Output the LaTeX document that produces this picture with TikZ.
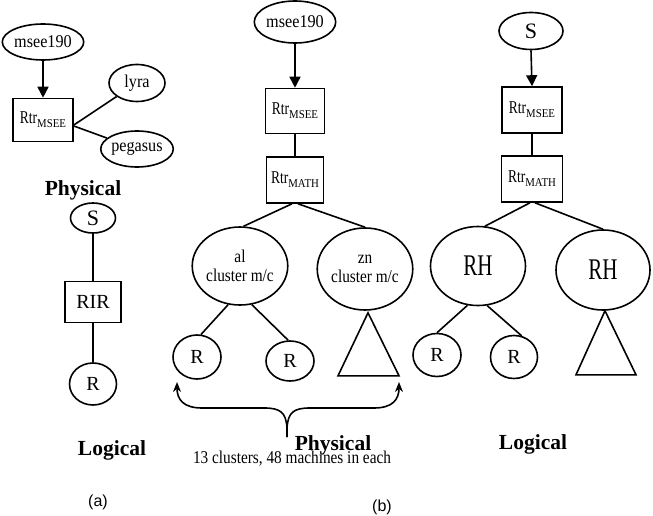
\documentclass[tikz,border=0pt]{standalone}
\usepackage{fontspec}
\setmainfont{Liberation Serif}
\newfontfamily\narrowfont[FakeStretch=0.9]{Liberation Serif}
\newfontfamily\clusterfont[FakeStretch=0.85]{Liberation Serif}
\newfontfamily\tightfont[FakeStretch=0.75]{Liberation Serif}
\newfontfamily\rhfont[FakeStretch=0.7]{Liberation Serif}
\newfontfamily\capfont{Liberation Sans}
\usetikzlibrary{shapes.geometric, arrows.meta}

\newcommand{\rtrlabel}[1]{{\tightfont\fontsize{18}{20}\selectfont Rtr}\raisebox{-4pt}{\narrowfont\fontsize{12}{14}\selectfont #1}}

\begin{document}
\begin{tikzpicture}[x=1pt, y=-1pt, line width=1.6pt,
    host/.style={ellipse, draw, inner sep=0pt, font=\narrowfont\fontsize{18}{20}\selectfont},
    leaf/.style={ellipse, draw, inner sep=0pt, font=\fontsize{20}{22}\selectfont},
    cluster/.style={ellipse, draw, inner sep=0pt, align=center, font=\clusterfont\fontsize{18}{19}\selectfont},
    rtrbox/.style={rectangle, draw, inner sep=0pt},
    caption/.style={font=\bfseries\fontsize{21.5}{24}\selectfont},
    arr/.style={-{Triangle[length=11pt,width=11pt]}},
    brace/.style={-{Stealth[length=10pt,width=8pt]}}]

    \useasboundingbox (0,0) rectangle (653,516);

    %% (a) Physical
    \node[host, minimum width=64, minimum height=36] (mseeA) at (43,42) {msee190};
    \node[rtrbox, minimum width=60, minimum height=43] (rtrA) at (43,120) {\rtrlabel{MSEE}};
    \node[host, minimum width=56, minimum height=37] (lyra) at (137,83) {lyra};
    \node[host, minimum width=59, minimum height=36] (pegasus) at (137,149) {pegasus};
    \node[caption] (physA) at (83,190) {Physical};

    \draw[arr] (mseeA.south) -- (rtrA.north);
    \draw ([yshift=-5pt]rtrA.east) -- (lyra);
    \draw ([yshift=-6pt]rtrA.east) -- (pegasus);

    %% (a) Logical
    \node[leaf, minimum width=45, minimum height=30, font=\fontsize{22}{24}\selectfont] (sA) at (93,218) {S};
    \node[rtrbox, minimum width=56, minimum height=41, font=\fontsize{20}{22}\selectfont] (rir) at (93,302) {RIR};
    \node[leaf, minimum width=47, minimum height=42] (rA) at (93,384) {R};
    \node[caption] (logA) at (112,450) {Logical};
    \node[font=\capfont\fontsize{16}{18}\selectfont] (capA) at (98,502) {(a)};

    \draw (sA.south) -- (rir.north);
    \draw (rir.south) -- (rA.north);

    %% (b) Physical
    \node[host, minimum width=65, minimum height=42] (mseeB) at (295,22) {msee190};
    \node[rtrbox, minimum width=59, minimum height=45] (rtrB) at (295,111) {\rtrlabel{MSEE}};
    \node[rtrbox, minimum width=57, minimum height=46] (mathB) at (295,180) {\rtrlabel{MATH}};
    \node[cluster, minimum width=93, minimum height=78] (al) at (240,266) {al\\cluster m/c};
    \node[cluster, minimum width=95, minimum height=82] (zn) at (365,269) {zn\\cluster m/c};
    \node[leaf, minimum width=48, minimum height=44] (rL) at (197,357) {R};
    \node[leaf, minimum width=48, minimum height=40] (rR) at (290,361) {R};

    \draw[arr] (mseeB.south) -- (rtrB.north);
    \draw (rtrB.south) -- (mathB.north);
    \draw ([xshift=-3pt]mathB.south) -- (al.85);
    \draw ([xshift=3pt]mathB.south) -- (zn.north);
    \draw (al.253) -- (rL.80);
    \draw (al.287) -- (rR.95);

    % Subtree of zn
    \draw (zn.south) ++(3,2) -- ++(-30,63) -- ++(61,0) -- cycle;

    % Brace over the machines
    \coordinate (braceTip) at (287,437);
    \coordinate (leftEnd) at (177,382);
    \coordinate (rightEnd) at (399,382);
    \draw[brace] (braceTip) -- (287,428) .. controls (286,412) and (280,408) .. (264,408)
        -- (202,408) .. controls (184,408) and (177,400) .. (leftEnd);
    \draw[brace] (braceTip) -- (287,428) .. controls (288,412) and (294,408) .. (310,408)
        -- (374,408) .. controls (392,408) and (399,400) .. (rightEnd);

    \node[caption] (physB) at (333,445) {Physical};
    \node[font=\clusterfont\fontsize{18}{20}\selectfont] (count) at (292,459) {13 clusters, 48 machines in each};
    \node[font=\capfont\fontsize{16}{18}\selectfont] (capB) at (382,507) {(b)};

    %% (b) Logical
    \node[leaf, minimum width=64, minimum height=37, font=\fontsize{22}{24}\selectfont] (sC) at (531,31) {S};
    \node[rtrbox, minimum width=60, minimum height=46] (rtrC) at (532,110) {\rtrlabel{MSEE}};
    \node[rtrbox, minimum width=61, minimum height=46] (mathC) at (532,179) {\rtrlabel{MATH}};
    \node[ellipse, draw, inner sep=0pt, minimum width=95, minimum height=79, font=\rhfont\fontsize{30}{32}\selectfont] (rhL) at (478,266) {RH};
    \node[ellipse, draw, inner sep=0pt, minimum width=94, minimum height=80, font=\rhfont\fontsize{30}{32}\selectfont] (rhR) at (603,270) {RH};
    \node[leaf, minimum width=48, minimum height=43] (r2L) at (437,355) {R};
    \node[leaf, minimum width=47, minimum height=43] (r2R) at (514,357) {R};

    \draw[arr] (sC.south) -- (rtrC.north);
    \draw (rtrC.south) -- (mathC.north);
    \draw ([xshift=-2pt]mathC.south) -- (rhL.80);
    \draw ([xshift=3pt]mathC.south) -- (rhR.north);
    \draw (rhL.255) -- (r2L.north);
    \draw (rhL.283) -- (r2R.70);

    % Subtree of the right RH
    \draw (rhR.south) ++(2,0) -- ++(-29,64) -- ++(60,0) -- cycle;

    \node[caption] (logB) at (533,444) {Logical};

\end{tikzpicture}
\end{document}
